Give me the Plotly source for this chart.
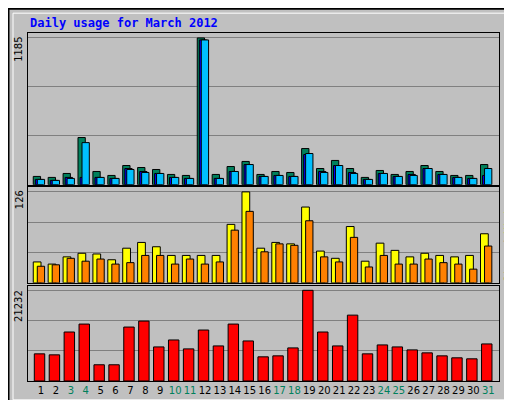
import plotly.graph_objects as go

days = list(range(1, 32))
weekend = [3, 4, 10, 11, 17, 18, 24, 25, 31]
hits = [67, 59, 91, 381, 107, 75, 155, 139, 123, 83, 75, 1185, 83, 147, 188, 83, 107, 99, 292, 131, 196, 131, 59, 115, 83, 107, 155, 107, 75, 75, 163]
files = [43, 35, 59, 59, 59, 51, 131, 107, 91, 59, 51, 1169, 51, 107, 163, 67, 75, 67, 244, 107, 155, 99, 43, 91, 67, 83, 131, 83, 59, 51, 75]
pages = [43, 35, 51, 340, 59, 51, 123, 99, 91, 59, 51, 1169, 51, 107, 163, 67, 75, 67, 252, 99, 155, 91, 43, 91, 67, 75, 131, 83, 59, 51, 131]
visits = [29, 26, 36, 41, 40, 32, 48, 56, 50, 38, 38, 38, 38, 81, 126, 48, 56, 54, 105, 44, 34, 78, 30, 55, 45, 36, 41, 38, 36, 38, 68]
sites = [23, 25, 34, 30, 33, 26, 28, 38, 38, 26, 33, 26, 29, 73, 99, 43, 54, 52, 86, 36, 29, 63, 22, 38, 26, 26, 33, 28, 26, 19, 51]
kbytes = [6355, 6122, 11470, 13330, 3797, 3797, 12632, 14027, 7982, 9610, 7518, 11935, 8215, 13330, 9377, 5657, 5890, 7750, 21232, 11470, 8215, 15422, 6355, 8447, 7982, 7285, 6587, 5890, 5425, 5192, 8680]

BG = "#c0c0c0"
W, H = 471.0, 351.0
fig = go.Figure()
fig.add_bar(x=days, y=hits, offset=-0.52, width=0.49, marker=dict(color="#00805c", line=dict(color="black", width=1)), yaxis="y")
fig.add_bar(x=days, y=files, offset=-0.38, width=0.49, marker=dict(color="#0000ff", line=dict(color="black", width=1)), yaxis="y")
fig.add_bar(x=days, y=pages, offset=-0.25, width=0.49, marker=dict(color="#00c0ff", line=dict(color="black", width=1)), yaxis="y")
fig.add_bar(x=days, y=visits, offset=-0.52, width=0.52, marker=dict(color="#ffff00", line=dict(color="black", width=1)), xaxis="x2", yaxis="y2")
fig.add_bar(x=days, y=sites, offset=-0.25, width=0.49, marker=dict(color="#ff8000", line=dict(color="black", width=1)), xaxis="x2", yaxis="y2")
fig.add_bar(x=days, y=kbytes, offset=-0.45, width=0.7, marker=dict(color="#ff0000", line=dict(color="black", width=1)), xaxis="x3", yaxis="y3")

ticktext = [f"<span style='color:#00805c'>{d}</span>" if d in weekend else str(d) for d in days]
xcommon = dict(range=[0.127, 31.72], showgrid=False, zeroline=False, fixedrange=True,
               showline=True, linecolor="black", linewidth=1, mirror=True)
ycommon = dict(showticklabels=False, zeroline=False, gridcolor="#808080", gridwidth=1,
               showline=True, linecolor="black", linewidth=1, mirror=True, ticks="")

def side(text, ytop, left):
    if left:
        return dict(text=text, xref="paper", yref="paper", x=-8 / W, y=ytop - 15 / H,
                    xanchor="center", yanchor="middle", textangle=-90, showarrow=False,
                    font=dict(size=10))
    return None

doms = [(0.564, 1.0), (0.282, 0.558), (0.0, 0.274)]
right_texts = [
    "<span style='color:#00c0ff'>Pages</span> / <span style='color:#0000ff'>Files</span> / <span style='color:#00805c'>Hits</span>",
    "<span style='color:#ff8000'>Sites</span> / <span style='color:#ffff00'>Visits</span>",
    "<span style='color:#ff0000'>KBytes</span>",
]
right_len = [20, 14, 6]
anns = [dict(text="<b>Daily usage for March 2012</b>", xref="paper", yref="paper", x=0.0, y=1 + 10 / H,
             xanchor="left", yanchor="middle", showarrow=False,
             font=dict(family="DejaVu Sans Mono", size=12, color="#0000ff"))]
for (d0, d1), lab in zip(doms, ["1185", "126", "21232"]):
    anns.append(dict(text=lab, xref="paper", yref="paper", x=-9 / W, y=d1 - (len(lab) * 3.5 + 3) / H,
                     xanchor="center", yanchor="middle", textangle=-90, showarrow=False, font=dict(size=10)))
for (d0, d1), t, n in zip(doms, right_texts, right_len):
    anns.append(dict(text=t, xref="paper", yref="paper", x=1 + 10 / W, y=d1 - (n * 3.6 + 3) / H,
                     xanchor="center", yanchor="middle", textangle=-90, showarrow=False,
                     font=dict(family="DejaVu Sans Mono", size=10)))

fig.update_layout(
    width=512, height=400, margin=dict(l=20, r=21, t=25, b=24),
    paper_bgcolor=BG, plot_bgcolor=BG, showlegend=False, barmode="overlay",
    font=dict(family="DejaVu Sans", size=11, color="black"),
    xaxis=dict(**xcommon, showticklabels=False, anchor="y"),
    xaxis2=dict(**xcommon, showticklabels=False, anchor="y2"),
    xaxis3=dict(**xcommon, anchor="y3", tickvals=days, ticktext=ticktext, ticks="", tickangle=0,
                tickfont=dict(size=10)),
    yaxis=dict(**ycommon, domain=[0.564, 1], range=[0, 1225], tick0=0, dtick=395),
    yaxis2=dict(**ycommon, domain=[0.282, 0.558], range=[0, 133], tick0=0, dtick=42),
    yaxis3=dict(**ycommon, domain=[0, 0.274], range=[0, 22325], tick0=0, dtick=7077.3),
    shapes=[dict(type="rect", xref="paper", yref="paper", x0=-15 / W, x1=1 + 14 / W, y0=-19 / H, y1=1 + 20 / H,
                 line=dict(color="white", width=1), layer="below"),
            dict(type="rect", xref="paper", yref="paper", x0=-19.5 / W, x1=1 + 20.5 / W, y0=-23.5 / H, y1=1 + 24.5 / H,
                 line=dict(color="black", width=2), layer="below")],
    annotations=anns,
)
fig.write_html("out.html")
